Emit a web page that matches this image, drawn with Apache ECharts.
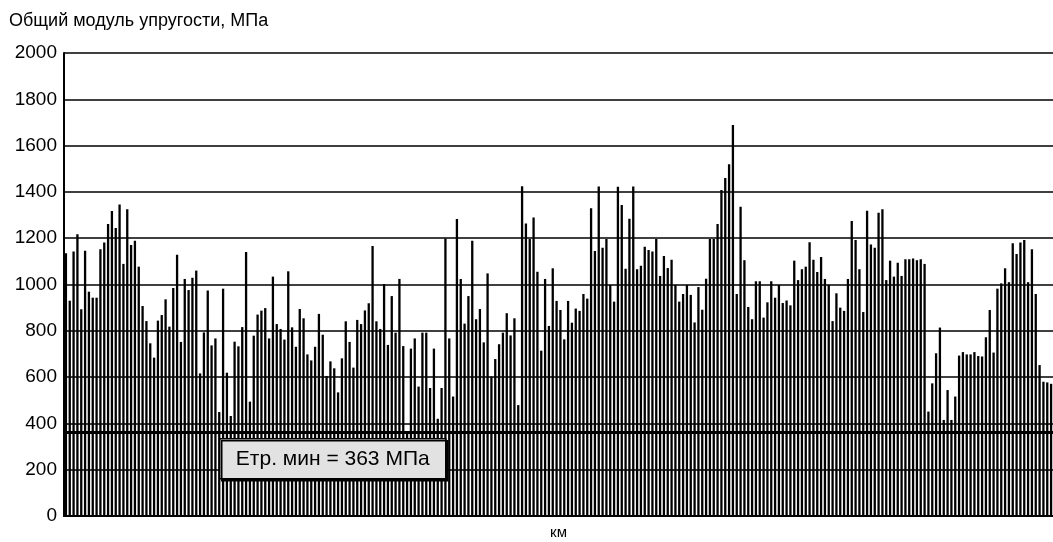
<!DOCTYPE html>
<html>
<head>
<meta charset="utf-8">
<script src="https://cdn.jsdelivr.net/npm/echarts@6/dist/echarts.min.js"></script>
<style>
html,body{margin:0;padding:0;background:#fff;}
#chart{width:1053px;height:542px;}
</style>
</head>
<body>
<div id="chart"></div>
<script>
// Values (МПа), left to right
const modulus = [
  1135, 930, 1143, 1217, 893, 1146, 969, 943, 943, 1152, 1181, 1261, 1317, 1244, 1346, 1089, 1325, 1171, 1189, 1077, 907, 842, 746, 684,
  844, 868, 936, 818, 985, 1129, 752, 1024, 976, 1029, 1060, 616, 793, 974, 737, 767, 449, 982, 619, 432, 753, 733, 816, 1140, 494,
  779, 870, 887, 898, 767, 1034, 829, 808, 762, 1057, 815, 731, 894, 854, 698, 672, 731, 873, 783, 605, 668, 638, 534, 681, 841, 752,
  641, 847, 829, 888, 919, 1166, 841, 808, 1002, 739, 950, 792, 1024, 734, 366, 723, 767, 559, 792, 792, 553, 723, 420, 553, 1199, 767,
  516, 1283, 1024, 831, 950, 1189, 850, 894, 750, 1048, 602, 678, 742, 792, 876, 780, 854, 479, 1424, 1264, 1197, 1289, 1055, 714, 1024, 821,
  1070, 929, 890, 763, 929, 835, 896, 886, 959, 939, 1329, 1145, 1423, 1159, 1197, 998, 926, 1422, 1343, 1068, 1284, 1423, 1066, 1081, 1163,
  1149, 1143, 1197, 1037, 1123, 1071, 1107, 998, 926, 959, 998, 955, 836, 989, 891, 1025, 1197, 1197, 1261, 1408, 1460, 1519, 1689, 959, 1336, 1105,
  903, 850, 1014, 1014, 857, 923, 1014, 943, 998, 920, 931, 910, 1103, 1019, 1066, 1077, 1182, 1107, 1054, 1119, 1024, 998, 842, 962, 900, 886,
  1024, 1274, 1192, 1066, 881, 1319, 1173, 1159, 1310, 1325, 1019, 1103, 1034, 1094, 1037, 1109, 1109, 1112, 1105, 1109, 1089, 451, 573, 703, 814,
  415, 544, 415, 516, 693, 708, 698, 698, 708, 691, 689, 772, 890, 706, 982, 1005, 1070, 1010, 1178, 1132, 1181, 1192, 1010, 1152, 959, 652, 580, 577, 571
];
const stations = modulus.map((_, i) => String(i + 1));
const minModulus = 363;
const titleText = 'Общий модуль упругости, МПа';
const xName = 'км';
const noteText = 'Етр. мин = 363 МПа';

const chart = echarts.init(document.getElementById('chart'), null, {renderer: 'canvas'});
const font = 'Liberation Sans, Arial, sans-serif';
chart.setOption({
  animation: false,
  backgroundColor: '#fff',
  title: {
    text: titleText, left: 4, top: 7,
    textStyle: {fontFamily: font, fontSize: 18, fontWeight: 'normal', color: '#000'}
  },
  grid: {left: 64, right: 0, top: 53, bottom: 26, containLabel: false, outerBoundsMode: 'none'},
  xAxis: {
    type: 'category', data: stations,
    name: xName, nameLocation: 'middle', nameGap: 9,
    nameTextStyle: {fontFamily: font, fontSize: 15, color: '#000', verticalAlign: 'top'},
    axisLine: {lineStyle: {color: '#000', width: 2}},
    axisTick: {show: false}, axisLabel: {show: false}
  },
  yAxis: {
    type: 'value', min: 0, max: 2000, interval: 200,
    axisLine: {show: true, lineStyle: {color: '#000', width: 2}},
    axisTick: {show: false},
    axisLabel: {fontFamily: font, fontSize: 19, color: '#000', margin: 7,
                formatter: v => String(v)},
    splitLine: {lineStyle: {color: '#000', width: 1.5}}
  },
  series: [{
    type: 'bar', data: modulus, barWidth: 2.3,
    itemStyle: {color: '#000'},
    markLine: {
      silent: true, symbol: 'none',
      lineStyle: {color: '#000', width: 3, type: 'solid'},
      label: {show: false},
      data: [{yAxis: minModulus}]
    }
  }],
  graphic: [{
    type: 'group', left: 219, top: 438, z: 100,
    children: [
      {type: 'rect', z: 100, shape: {x: 0, y: 0, width: 226, height: 40},
       style: {fill: '#e2e2e2', stroke: '#000', lineWidth: 1.5,
               shadowColor: '#000', shadowOffsetX: 2, shadowOffsetY: 2, shadowBlur: 0}},
      {type: 'text', z: 101, x: 113, y: 20,
       style: {text: noteText, fontFamily: font, fontSize: 21, fill: '#000',
               textAlign: 'center', textVerticalAlign: 'middle'}}
    ]
  }]
});
</script>
</body>
</html>
